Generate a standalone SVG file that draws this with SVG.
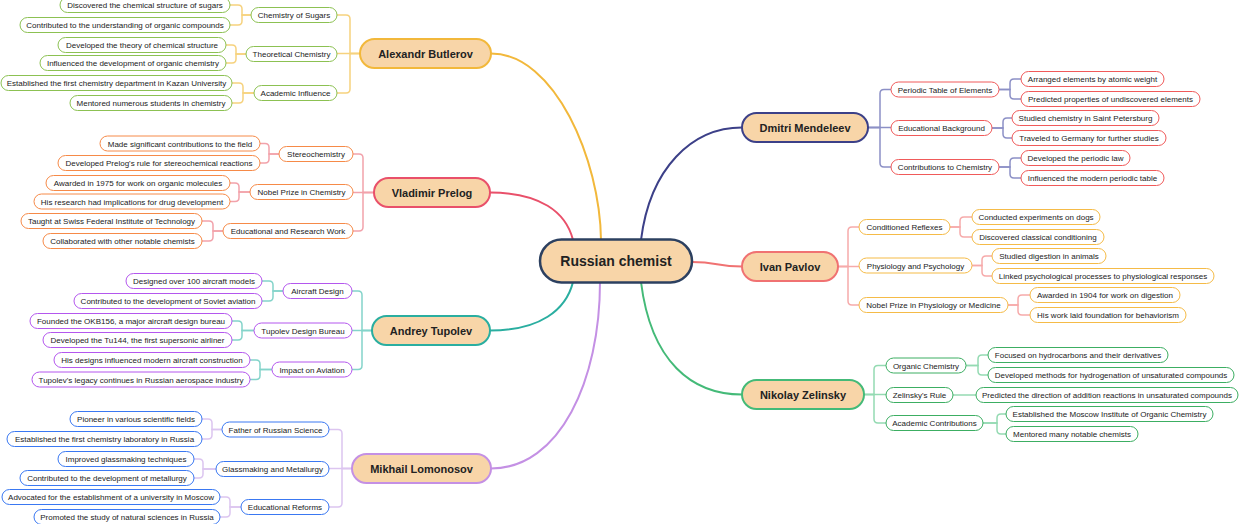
<svg xmlns="http://www.w3.org/2000/svg" width="1240" height="524" viewBox="0 0 1240 524">
<style>
text{font-family:"Liberation Sans",Arial,sans-serif;fill:#222;text-anchor:middle}
.n rect{fill:#fff;stroke-width:1}
.n text{font-size:8px}
.m rect{fill:#f8d5a8;stroke-width:2}
.m text{font-size:11px;font-weight:bold}
.r rect{fill:#f8d5a8;stroke:#2c4060;stroke-width:2.5}
.r text{font-size:14px;font-weight:bold}
#connectors path{fill:none;stroke-width:1.5}
#connectors .main path{stroke-width:2}
.c1{stroke:#f6d27e}.c2{stroke:#f2a2ab}.c3{stroke:#84d4ca}.c4{stroke:#dcc5f0}.c5{stroke:#8c90c6}.c6{stroke:#f6aaaa}.c7{stroke:#94dab2}
.k1 rect{stroke:#8cc152}.k2 rect{stroke:#f68a48}.k3 rect{stroke:#b457ee}.k4 rect{stroke:#3a78f2}.k5 rect{stroke:#f05a5a}.k6 rect{stroke:#f5bb47}.k7 rect{stroke:#3cae62}
</style>
<rect width="1240" height="524" fill="#fff"/>
<g id="connectors">
<g class="main">
<path d="M491 53.5 C555 53.5 600 160 601 240" stroke="#f2b83b"/>
<path d="M490 192.5 C540 192.5 566 212 573 240" stroke="#e9506a"/>
<path d="M490 330.5 C540 330.5 566 310 573 282" stroke="#2aaea0"/>
<path d="M491 468.5 C560 468.5 600 380 600 282" stroke="#c490e4"/>
<path d="M641 240 C650 168 692 127.5 742 127.5" stroke="#3c4088"/>
<path d="M692 262 C718 262 716 266.5 742 266.5" stroke="#f07272"/>
<path d="M641 282 C651 362 692 394.5 742 394.5" stroke="#44ba78"/>
</g>
<g class="c1">
<path d="M360 53.5 H350 V19 Q350 15 346 15 H337"/>
<path d="M360 53.5 H337"/>
<path d="M360 53.5 H350 V89 Q350 93 346 93 H337"/>
<path d="M251 15 H242 V9 Q242 5 238 5 H230"/>
<path d="M251 15 H242 V21 Q242 25 238 25 H230"/>
<path d="M246 54 H236 V49 Q236 45 232 45 H226"/>
<path d="M246 54 H236 V59 Q236 63 232 63 H226"/>
<path d="M254 93 H243 V87 Q243 83 239 83 H232"/>
<path d="M254 93 H243 V99 Q243 103 239 103 H232"/>
</g>
<g class="c2">
<path d="M374 192.5 H363 V158 Q363 154 359 154 H353"/>
<path d="M374 192.5 H353"/>
<path d="M374 192.5 H363 V227 Q363 231 359 231 H353"/>
<path d="M279 154 H269 V147.5 Q269 143.5 265 143.5 H260"/>
<path d="M279 154 H269 V159 Q269 163 265 163 H260"/>
<path d="M250 192 H239 V187 Q239 183 235 183 H230"/>
<path d="M250 192 H239 V197.5 Q239 201.5 235 201.5 H230"/>
<path d="M223 231 H213 V225 Q213 221 209 221 H202"/>
<path d="M223 231 H213 V237 Q213 241 209 241 H202"/>
</g>
<g class="c3">
<path d="M372 330.5 H362 V295 Q362 291 358 291 H352"/>
<path d="M372 330.5 H352"/>
<path d="M372 330.5 H362 V365.5 Q362 369.5 358 369.5 H352"/>
<path d="M283 291 H273 V285 Q273 281 269 281 H262"/>
<path d="M283 291 H273 V297 Q273 301 269 301 H262"/>
<path d="M254 330.5 H242 V325 Q242 321 238 321 H232"/>
<path d="M254 330.5 H242 V336 Q242 340 238 340 H232"/>
<path d="M272 369.5 H260 V364 Q260 360 256 360 H250"/>
<path d="M272 369.5 H260 V375.5 Q260 379.5 256 379.5 H250"/>
</g>
<g class="c4">
<path d="M352 468.5 H342 V433.5 Q342 429.5 338 429.5 H329"/>
<path d="M352 468.5 H329"/>
<path d="M352 468.5 H342 V503 Q342 507 338 507 H329"/>
<path d="M222 429.5 H212 V423 Q212 419 208 419 H202"/>
<path d="M222 429.5 H212 V435 Q212 439 208 439 H202"/>
<path d="M216 469 H203 V463 Q203 459 199 459 H194"/>
<path d="M216 469 H203 V474 Q203 478 199 478 H194"/>
<path d="M241 507 H230 V501 Q230 497 226 497 H220"/>
<path d="M241 507 H230 V513 Q230 517 226 517 H220"/>
</g>
<g class="c5">
<path d="M868 127.5 H880 V93.5 Q880 89.5 884 89.5 H891"/>
<path d="M868 127.5 H891"/>
<path d="M868 127.5 H880 V163 Q880 167 884 167 H891"/>
<path d="M999 89.5 H1010 V83 Q1010 79 1014 79 H1021"/>
<path d="M999 89.5 H1010 V95 Q1010 99 1014 99 H1021"/>
<path d="M992 128 H1003 V122 Q1003 118 1007 118 H1012"/>
<path d="M992 128 H1003 V134 Q1003 138 1007 138 H1012"/>
<path d="M999 167 H1010 V162 Q1010 158 1014 158 H1021"/>
<path d="M999 167 H1010 V174 Q1010 178 1014 178 H1021"/>
</g>
<g class="c6">
<path d="M838 266.5 H848 V231 Q848 227 852 227 H859"/>
<path d="M838 266.5 H859"/>
<path d="M838 266.5 H848 V301 Q848 305 852 305 H859"/>
<path d="M950 227 H960 V221 Q960 217 964 217 H972"/>
<path d="M950 227 H960 V233 Q960 237 964 237 H972"/>
<path d="M972 265.5 H982 V260 Q982 256 986 256 H992"/>
<path d="M972 265.5 H982 V272 Q982 276 986 276 H992"/>
<path d="M1008 305 H1018 V299 Q1018 295 1022 295 H1030"/>
<path d="M1008 305 H1018 V311 Q1018 315 1022 315 H1030"/>
</g>
<g class="c7">
<path d="M864 394.5 H874 V369.5 Q874 365.5 878 365.5 H886"/>
<path d="M864 394.5 H886"/>
<path d="M864 394.5 H874 V419 Q874 423 878 423 H886"/>
<path d="M966 365.5 H978 V359 Q978 355 982 355 H988"/>
<path d="M966 365.5 H978 V371 Q978 375 982 375 H988"/>
<path d="M953 395 H976"/>
<path d="M983 423 H997 V418 Q997 414 1001 414 H1006"/>
<path d="M983 423 H997 V430 Q997 434 1001 434 H1006"/>
</g>
</g>

<g id="root" class="r"><rect x="540" y="239.5" width="152" height="43" rx="21.5"/><text x="616" y="266">Russian chemist</text></g>

<g id="butlerov" class="m"><rect x="360" y="39" width="131" height="29" rx="14.5" stroke="#f2b83b"/><text x="425.5" y="57.5">Alexandr Butlerov</text></g>
<g id="butlerov-subs" class="n k1">
<g id="b1"><rect x="251" y="7.5" width="86" height="15" rx="7.5"/><text x="294" y="18">Chemistry of Sugars</text></g>
<g id="b2"><rect x="246" y="46.5" width="91" height="15" rx="7.5"/><text x="291.5" y="57">Theoretical Chemistry</text></g>
<g id="b3"><rect x="254" y="85.5" width="83" height="15" rx="7.5"/><text x="295.5" y="96">Academic Influence</text></g>
<g id="b1a"><rect x="60" y="-2.5" width="170" height="15" rx="7.5"/><text x="145" y="8">Discovered the chemical structure of sugars</text></g>
<g id="b1b"><rect x="20" y="17.5" width="210" height="15" rx="7.5"/><text x="125" y="28">Contributed to the understanding of organic compounds</text></g>
<g id="b2a"><rect x="58" y="37.5" width="168" height="15" rx="7.5"/><text x="142" y="48">Developed the theory of chemical structure</text></g>
<g id="b2b"><rect x="40" y="55.5" width="186" height="15" rx="7.5"/><text x="133" y="66">Influenced the development of organic chemistry</text></g>
<g id="b3a"><rect x="1" y="75.5" width="231" height="15" rx="7.5"/><text x="116.5" y="86">Established the first chemistry department in Kazan University</text></g>
<g id="b3b"><rect x="70" y="95.5" width="162" height="15" rx="7.5"/><text x="151" y="106">Mentored numerous students in chemistry</text></g>
</g>

<g id="prelog" class="m"><rect x="374" y="178" width="116" height="29" rx="14.5" stroke="#e9506a"/><text x="432" y="196.5">Vladimir Prelog</text></g>
<g id="prelog-subs" class="n k2">
<g id="p1"><rect x="279" y="146.5" width="74" height="15" rx="7.5"/><text x="316" y="157">Stereochemistry</text></g>
<g id="p2"><rect x="250" y="184.5" width="103" height="15" rx="7.5"/><text x="301.5" y="195">Nobel Prize in Chemistry</text></g>
<g id="p3"><rect x="223" y="223.5" width="130" height="15" rx="7.5"/><text x="288" y="234">Educational and Research Work</text></g>
<g id="p1a"><rect x="100" y="136" width="160" height="15" rx="7.5"/><text x="180" y="146.5">Made significant contributions to the field</text></g>
<g id="p1b"><rect x="58" y="155.5" width="202" height="15" rx="7.5"/><text x="159" y="166">Developed Prelog's rule for stereochemical reactions</text></g>
<g id="p2a"><rect x="46" y="175.5" width="184" height="15" rx="7.5"/><text x="138" y="186">Awarded in 1975 for work on organic molecules</text></g>
<g id="p2b"><rect x="34" y="194" width="196" height="15" rx="7.5"/><text x="132" y="204.5">His research had implications for drug development</text></g>
<g id="p3a"><rect x="21" y="213.5" width="181" height="15" rx="7.5"/><text x="111.5" y="224">Taught at Swiss Federal Institute of Technology</text></g>
<g id="p3b"><rect x="43" y="233.5" width="159" height="15" rx="7.5"/><text x="122.5" y="244">Collaborated with other notable chemists</text></g>
</g>

<g id="tupolev" class="m"><rect x="372" y="316" width="118" height="29" rx="14.5" stroke="#2aaea0"/><text x="431" y="334.5">Andrey Tupolev</text></g>
<g id="tupolev-subs" class="n k3">
<g id="t1"><rect x="283" y="283.5" width="69" height="15" rx="7.5"/><text x="317.5" y="294">Aircraft Design</text></g>
<g id="t2"><rect x="254" y="323" width="98" height="15" rx="7.5"/><text x="303" y="333.5">Tupolev Design Bureau</text></g>
<g id="t3"><rect x="272" y="362" width="80" height="15" rx="7.5"/><text x="312" y="372.5">Impact on Aviation</text></g>
<g id="t1a"><rect x="126" y="273.5" width="136" height="15" rx="7.5"/><text x="194" y="284">Designed over 100 aircraft models</text></g>
<g id="t1b"><rect x="74" y="293.5" width="188" height="15" rx="7.5"/><text x="168" y="304">Contributed to the development of Soviet aviation</text></g>
<g id="t2a"><rect x="30" y="313.5" width="202" height="15" rx="7.5"/><text x="131" y="324">Founded the OKB156, a major aircraft design bureau</text></g>
<g id="t2b"><rect x="43" y="332.5" width="189" height="15" rx="7.5"/><text x="137.5" y="343">Developed the Tu144, the first supersonic airliner</text></g>
<g id="t3a"><rect x="54" y="352.5" width="196" height="15" rx="7.5"/><text x="152" y="363">His designs influenced modern aircraft construction</text></g>
<g id="t3b"><rect x="32" y="372" width="218" height="15" rx="7.5"/><text x="141" y="382.5">Tupolev's legacy continues in Russian aerospace industry</text></g>
</g>

<g id="lomonosov" class="m"><rect x="352" y="454" width="139" height="29" rx="14.5" stroke="#c490e4"/><text x="421.5" y="472.5">Mikhail Lomonosov</text></g>
<g id="lomonosov-subs" class="n k4">
<g id="l1"><rect x="222" y="422" width="107" height="15" rx="7.5"/><text x="275.5" y="432.5">Father of Russian Science</text></g>
<g id="l2"><rect x="216" y="461.5" width="113" height="15" rx="7.5"/><text x="272.5" y="472">Glassmaking and Metallurgy</text></g>
<g id="l3"><rect x="241" y="499.5" width="88" height="15" rx="7.5"/><text x="285" y="510">Educational Reforms</text></g>
<g id="l1a"><rect x="70" y="411.5" width="132" height="15" rx="7.5"/><text x="136" y="422">Pioneer in various scientific fields</text></g>
<g id="l1b"><rect x="7" y="431.5" width="195" height="15" rx="7.5"/><text x="104.5" y="442">Established the first chemistry laboratory in Russia</text></g>
<g id="l2a"><rect x="58" y="451.5" width="136" height="15" rx="7.5"/><text x="126" y="462">Improved glassmaking techniques</text></g>
<g id="l2b"><rect x="20" y="470.5" width="174" height="15" rx="7.5"/><text x="107" y="481">Contributed to the development of metallurgy</text></g>
<g id="l3a"><rect x="2" y="489.5" width="218" height="15" rx="7.5"/><text x="111" y="500">Advocated for the establishment of a university in Moscow</text></g>
<g id="l3b"><rect x="34" y="509.5" width="186" height="15" rx="7.5"/><text x="127" y="520">Promoted the study of natural sciences in Russia</text></g>
</g>

<g id="mendeleev" class="m"><rect x="742" y="113" width="126" height="29" rx="14.5" stroke="#3c4088"/><text x="805" y="131.5">Dmitri Mendeleev</text></g>
<g id="mendeleev-subs" class="n k5">
<g id="d1"><rect x="891" y="82" width="108" height="15" rx="7.5"/><text x="945" y="92.5">Periodic Table of Elements</text></g>
<g id="d2"><rect x="891" y="120.5" width="101" height="15" rx="7.5"/><text x="941.5" y="131">Educational Background</text></g>
<g id="d3"><rect x="891" y="159.5" width="108" height="15" rx="7.5"/><text x="945" y="170">Contributions to Chemistry</text></g>
<g id="d1a"><rect x="1021" y="71.5" width="143" height="15" rx="7.5"/><text x="1092.5" y="82">Arranged elements by atomic weight</text></g>
<g id="d1b"><rect x="1021" y="91.5" width="179" height="15" rx="7.5"/><text x="1110.5" y="102">Predicted properties of undiscovered elements</text></g>
<g id="d2a"><rect x="1012" y="110.5" width="147" height="15" rx="7.5"/><text x="1085.5" y="121">Studied chemistry in Saint Petersburg</text></g>
<g id="d2b"><rect x="1012" y="130.5" width="154" height="15" rx="7.5"/><text x="1089" y="141">Traveled to Germany for further studies</text></g>
<g id="d3a"><rect x="1021" y="150.5" width="109" height="15" rx="7.5"/><text x="1075.5" y="161">Developed the periodic law</text></g>
<g id="d3b"><rect x="1021" y="170.5" width="143" height="15" rx="7.5"/><text x="1092.5" y="181">Influenced the modern periodic table</text></g>
</g>

<g id="pavlov" class="m"><rect x="742" y="252" width="96" height="29" rx="14.5" stroke="#f07272"/><text x="790" y="270.5">Ivan Pavlov</text></g>
<g id="pavlov-subs" class="n k6">
<g id="v1"><rect x="859" y="219.5" width="91" height="15" rx="7.5"/><text x="904.5" y="230">Conditioned Reflexes</text></g>
<g id="v2"><rect x="859" y="258" width="113" height="15" rx="7.5"/><text x="915.5" y="268.5">Physiology and Psychology</text></g>
<g id="v3"><rect x="859" y="297.5" width="149" height="15" rx="7.5"/><text x="933.5" y="308">Nobel Prize in Physiology or Medicine</text></g>
<g id="v1a"><rect x="972" y="209.5" width="128" height="15" rx="7.5"/><text x="1036" y="220">Conducted experiments on dogs</text></g>
<g id="v1b"><rect x="972" y="229.5" width="132" height="15" rx="7.5"/><text x="1038" y="240">Discovered classical conditioning</text></g>
<g id="v2a"><rect x="992" y="248.5" width="114" height="15" rx="7.5"/><text x="1049" y="259">Studied digestion in animals</text></g>
<g id="v2b"><rect x="992" y="268.5" width="222" height="15" rx="7.5"/><text x="1103" y="279">Linked psychological processes to physiological responses</text></g>
<g id="v3a"><rect x="1030" y="287.5" width="150" height="15" rx="7.5"/><text x="1105" y="298">Awarded in 1904 for work on digestion</text></g>
<g id="v3b"><rect x="1030" y="307.5" width="156" height="15" rx="7.5"/><text x="1108" y="318">His work laid foundation for behaviorism</text></g>
</g>

<g id="zelinsky" class="m"><rect x="742" y="380" width="122" height="29" rx="14.5" stroke="#44ba78"/><text x="803" y="398.5">Nikolay Zelinsky</text></g>
<g id="zelinsky-subs" class="n k7">
<g id="z1"><rect x="886" y="358" width="80" height="15" rx="7.5"/><text x="926" y="368.5">Organic Chemistry</text></g>
<g id="z2"><rect x="886" y="387.5" width="67" height="15" rx="7.5"/><text x="919.5" y="398">Zelinsky's Rule</text></g>
<g id="z3"><rect x="886" y="415.5" width="97" height="15" rx="7.5"/><text x="934.5" y="426">Academic Contributions</text></g>
<g id="z1a"><rect x="988" y="347.5" width="180" height="15" rx="7.5"/><text x="1078" y="358">Focused on hydrocarbons and their derivatives</text></g>
<g id="z1b"><rect x="988" y="367.5" width="246" height="15" rx="7.5"/><text x="1111" y="378">Developed methods for hydrogenation of unsaturated compounds</text></g>
<g id="z2a"><rect x="976" y="387.5" width="262" height="15" rx="7.5"/><text x="1107" y="398">Predicted the direction of addition reactions in unsaturated compounds</text></g>
<g id="z3a"><rect x="1006" y="406.5" width="207" height="15" rx="7.5"/><text x="1109.5" y="417">Established the Moscow Institute of Organic Chemistry</text></g>
<g id="z3b"><rect x="1006" y="426.5" width="132" height="15" rx="7.5"/><text x="1072" y="437">Mentored many notable chemists</text></g>
</g>
</svg>
